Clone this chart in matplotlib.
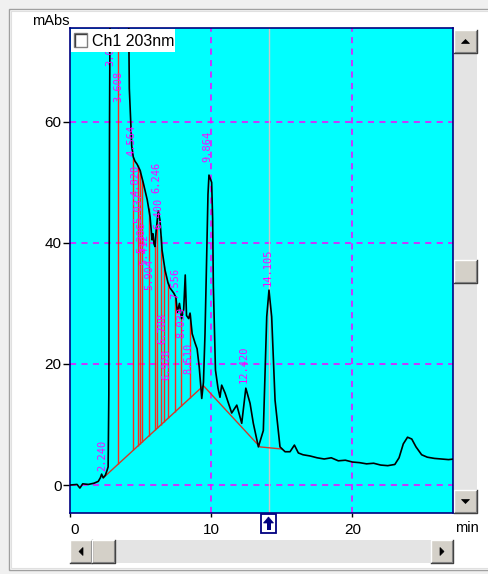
import numpy as np
import matplotlib
matplotlib.use("Agg")
import matplotlib.pyplot as plt
from matplotlib.patches import Rectangle, Polygon

# ---------------- data ----------------
trace_t = [0.0, 0.5, 0.7, 0.9, 1.3, 1.7, 2.0, 2.15, 2.24, 2.35, 2.5, 2.62, 2.7,
           2.75, 2.8, 2.85, 3.0, 3.2, 3.43, 3.6, 3.9, 4.15, 4.2, 4.3, 4.37, 4.48,
           4.6, 4.75, 4.96, 5.19, 5.47, 5.67, 5.81, 5.88, 5.95, 6.02, 6.1, 6.25,
           6.37, 6.52, 6.73, 6.94, 7.1, 7.35, 7.5, 7.6, 7.75, 7.9, 8.05, 8.16,
           8.25, 8.4, 8.5, 8.65, 8.85, 9.0, 9.15, 9.33, 9.45, 9.56, 9.68, 9.77,
           9.84, 9.95, 10.03, 10.1, 10.15, 10.3, 10.48, 10.62, 10.74, 10.98,
           11.45, 11.81, 12.16, 12.45, 12.75, 12.98, 13.34, 13.69, 13.93, 14.09,
           14.28, 14.52, 14.87, 15.23, 15.58, 15.89, 16.17, 16.5, 17.0, 17.5,
           18.0, 18.5, 19.0, 19.5, 20.0, 20.5, 21.0, 21.5, 22.0, 22.5, 23.0,
           23.3, 23.6, 23.9, 24.2, 24.5, 24.9, 25.3, 25.8, 26.3, 26.8, 27.2]
trace_v = [0.0, 0.1, -0.5, 0.2, 0.1, 0.3, 0.6, 1.2, 1.8, 1.2, 1.6, 2.4, 3.0,
           15.0, 60.0, 85.0, 110.0, 100.0, 88.0, 105.0, 95.0, 78.0, 65.5, 60.0, 56.0, 54.2,
           53.5, 53.0, 52.0, 49.9, 47.1, 44.3, 40.5, 41.5, 39.8, 39.4, 42.0, 45.3,
           43.8, 38.8, 35.5, 33.4, 32.5, 31.7, 31.0, 28.5, 30.0, 27.5, 29.0, 34.7,
           28.0, 27.5, 28.4, 25.0, 23.5, 22.5, 19.5, 14.3, 17.0, 25.0, 38.0, 48.0,
           51.2, 50.5, 50.0, 44.0, 33.0, 19.0, 16.0, 14.5, 16.5, 15.2,
           11.9, 13.2, 10.2, 16.0, 13.5, 10.2, 6.3, 9.0, 27.8, 32.2,
           27.8, 14.0, 6.3, 5.5, 5.5, 6.6, 5.3, 5.0, 4.8, 4.5,
           4.3, 4.5, 4.0, 4.1, 3.8, 3.7, 3.5, 3.6, 3.3, 3.2, 3.4,
           4.5, 6.8, 7.9, 7.6, 6.3, 5.0, 4.6, 4.4, 4.3, 4.2, 4.3]

baseline_t = [2.36, 9.45, 13.45, 15.0]
baseline_v = [1.2, 16.4, 6.3, 5.95]

drop_t = [3.43, 4.49, 4.78, 4.96, 5.13, 5.56, 6.03, 6.19, 6.45, 6.69, 6.93,
          7.45, 7.87, 8.51]

peak_labels = ["2.240", "3.028", "3.608", "4.564", "4.820", "5.037", "5.206",
               "5.412", "5.904", "6.246", "6.400", "6.708", "6.928", "7.556",
               "8.039", "8.510", "9.864", "12.420", "14.105"]
peak_t = [2.27, 2.84, 3.40, 4.33, 4.62, 4.85, 5.05, 5.25, 5.65, 6.10, 6.25,
          6.55, 6.85, 7.42, 7.90, 8.38, 9.70, 12.33, 14.00]
peak_h = [2.1, 69.0, 63.0, 54.0, 47.5, 43.0, 38.0, 36.0, 32.0, 48.0, 42.0,
          23.0, 17.0, 30.5, 24.0, 18.0, 53.0, 16.5, 32.5]

x_ticks = [0, 10, 20]
y_ticks = [0, 20, 40, 60]
channel_name = "Ch1 203nm"
cursor_t = 14.105

# ---------------- figure ----------------
W, H, DPI = 489, 574, 100
fig = plt.figure(figsize=(W / DPI, H / DPI), dpi=DPI)
fig.patch.set_facecolor("white")

UI = "Liberation Sans"

# background overlay in pixel coordinates
bg = fig.add_axes([0, 0, 1, 1], zorder=0)
bg.set_xlim(0, W); bg.set_ylim(H, 0); bg.axis("off")
bg.add_patch(Rectangle((0, 0), W, H, fc="#f0f0f0", ec="none"))
bg.add_patch(Rectangle((9, 9), W, 561, fc="white", ec="#a0a0a0", lw=1.0))
bg.add_patch(Rectangle((11, 11), W, 557, fc="none", ec="#e0e0e0", lw=0.8))


def button(axp, x0, y0, w, h, direction):
    axp.add_patch(Rectangle((x0, y0), w, h, fc="#d4d0c8", ec="none"))
    axp.plot([x0, x0, x0 + w], [y0 + h, y0, y0], color="white", lw=1.0)
    axp.plot([x0, x0 + w, x0 + w], [y0 + h, y0 + h, y0], color="#404040", lw=1.0)
    axp.plot([x0 + 1, x0 + w - 1, x0 + w - 1], [y0 + h - 1, y0 + h - 1, y0 + 1],
             color="#808080", lw=0.8)
    cx, cy = x0 + w / 2, y0 + h / 2
    s = 4
    if direction == "up":
        pts = [(cx - s, cy + 2), (cx + s, cy + 2), (cx, cy - 2)]
    elif direction == "down":
        pts = [(cx - s, cy - 2), (cx + s, cy - 2), (cx, cy + 2)]
    elif direction == "left":
        pts = [(cx + 2, cy - s), (cx + 2, cy + s), (cx - 2, cy)]
    elif direction == "right":
        pts = [(cx - 2, cy - s), (cx - 2, cy + s), (cx + 2, cy)]
    else:
        pts = None
    if pts:
        axp.add_patch(Polygon(pts, closed=True, fc="black", ec="black", lw=0.5))


# vertical scrollbar
bg.add_patch(Rectangle((454, 30), 23, 483, fc="#e4e4e4", ec="none"))
button(bg, 454, 30, 23, 23, "up")
button(bg, 454, 260, 23, 23, None)
button(bg, 454, 490, 23, 23, "down")
# horizontal scrollbar
bg.add_patch(Rectangle((70, 540), 383, 23, fc="#e4e4e4", ec="none"))
button(bg, 70, 540, 22, 23, "left")
button(bg, 92, 540, 23, 23, None)
button(bg, 431, 540, 22, 23, "right")

bg.text(51, 21, "mAbs", ha="center", va="center", fontsize=10.5, family=UI)
bg.text(467, 528, "min", ha="center", va="center", fontsize=10.5, family=UI)

# ---------------- main plot ----------------
ax = fig.add_axes([70 / W, 1 - 513 / H, 383 / W, 485 / H], zorder=2)
ax.set_facecolor("#00ffff")
ax.set_xlim(0, 27.12)
ax.set_ylim(-4.62, 75.5)
for sp in ax.spines.values():
    sp.set_color("#000080")
    sp.set_linewidth(1.2)

ax.set_xticks(x_ticks)
ax.set_yticks(y_ticks)
ax.set_xticklabels([str(v) for v in x_ticks], family=UI, fontsize=11)
ax.set_yticklabels([str(v) for v in y_ticks], family=UI, fontsize=11)
ax.get_xticklabels()[0].set_horizontalalignment("left")
ax.tick_params(axis="x", direction="out", length=3, width=1, color="black", pad=4)
ax.tick_params(axis="y", direction="out", length=5, width=1, color="black", pad=1)

# grid
for xv in x_ticks[1:]:
    ax.axvline(xv, color="#ff00ff", lw=1.1, ls=(0, (4, 3.5)), zorder=1)
for yv in y_ticks:
    ax.axhline(yv, color="#ff00ff", lw=1.1, ls=(0, (4, 3.5)), zorder=1)

# cursor line
ax.axvline(cursor_t, color="#c8c8c8", lw=1.0, zorder=1)

# drop lines and baseline
tt = np.array(trace_t); vv = np.array(trace_v)
d_t = np.array(drop_t)
d_bot = np.interp(d_t, baseline_t, baseline_v)
d_top = np.interp(d_t, tt, vv)
ax.vlines(d_t, d_bot, d_top, colors="#ff2a1a", lw=1.0, zorder=2)
ax.plot(baseline_t, baseline_v, color="#d03a2a", lw=1.0, zorder=3)

# chromatogram
ax.plot(tt, vv, color="black", lw=1.2, zorder=4)

# peak labels
for s, t, h in zip(peak_labels, peak_t, peak_h):
    ax.text(t, h + 0.3, s, rotation=90, ha="center", va="bottom",
            color="#ff00ff", fontsize=7.5, family="DejaVu Sans Mono",
            zorder=5, clip_on=True)

# ---------------- foreground overlay ----------------
fg = fig.add_axes([0, 0, 1, 1], zorder=5)
fg.set_xlim(0, W); fg.set_ylim(H, 0); fg.axis("off")
fg.patch.set_alpha(0)
# legend box
fg.add_patch(Rectangle((71, 29), 104, 23, fc="white", ec="none"))
fg.add_patch(Rectangle((74, 33), 13, 14, fc="white", ec="#808080", lw=1.0))
fg.plot([75, 75, 86], [46, 34, 34], color="#404040", lw=1.0)
fg.text(92, 41, channel_name, ha="left", va="center", fontsize=11.5, family=UI)
# cursor marker under the axis
fg.add_patch(Rectangle((261, 514), 15, 19, fc="white", ec="#000080", lw=1.3))
fg.add_patch(Polygon([(263.5, 523), (268.5, 517), (273.5, 523)], closed=True,
                     fc="#000080", ec="#000080", lw=0.5))
fg.add_patch(Rectangle((266.5, 522.5), 4, 7, fc="#000080", ec="none"))

fig.savefig("out.png", dpi=DPI, facecolor=fig.get_facecolor())
